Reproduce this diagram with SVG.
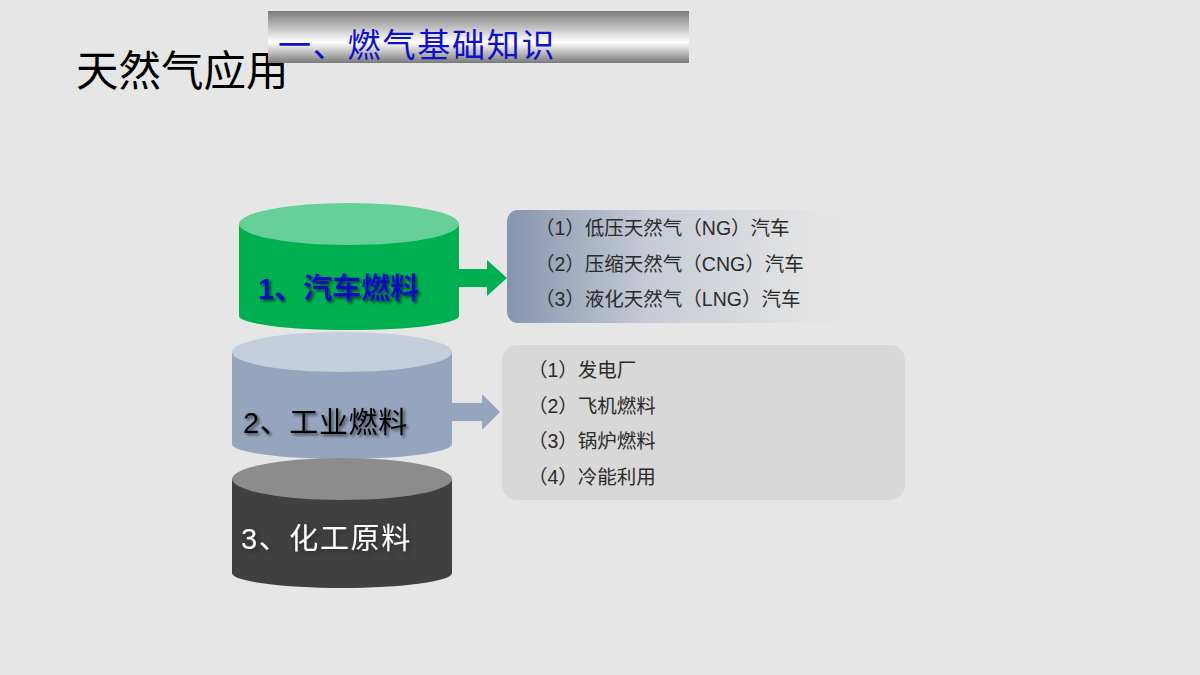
<svg xmlns="http://www.w3.org/2000/svg" width="1200" height="675" viewBox="0 0 1200 675">
<defs>
<linearGradient id="barGrad" x1="0" y1="0" x2="0" y2="1">
<stop offset="0" stop-color="#7a7a7a"/>
<stop offset="0.6" stop-color="#ffffff"/>
<stop offset="1" stop-color="#7a7a7a"/>
</linearGradient>
<linearGradient id="box1Grad" x1="0" y1="0" x2="1" y2="0">
<stop offset="0" stop-color="#8594ae"/>
<stop offset="0.35" stop-color="#c7ccd5"/>
<stop offset="0.75" stop-color="#e4e4e4"/>
<stop offset="1" stop-color="#e6e6e6"/>
</linearGradient>
<filter id="shadow" x="-10%" y="-30%" width="120%" height="160%">
<feDropShadow dx="2" dy="2" stdDeviation="1.5" flood-color="#000" flood-opacity="0.6"/>
</filter>
<filter id="shadowLight" x="-10%" y="-30%" width="120%" height="160%">
<feDropShadow dx="2" dy="2" stdDeviation="2" flood-color="#222" flood-opacity="0.7"/>
</filter>
</defs>
<style>
.cjk{font-family:"Liberation Sans","Noto Sans CJK SC",sans-serif;}
.item{font-family:"Liberation Sans","Noto Sans CJK SC",sans-serif;font-size:19.5px;fill:#2b2b2b;}
.cyltext{font-family:"Liberation Sans","Noto Sans CJK SC",sans-serif;font-size:29px;}
</style>
<rect width="1200" height="675" fill="#e6e6e6"/>

<g id="heading">
<text class="cjk" x="76" y="86" font-size="42.5" fill="#000">天然气应用</text>
</g>

<g id="title-bar">
<rect x="268" y="11" width="421" height="52" fill="url(#barGrad)"/>
<text x="278" y="57" font-family="Noto Sans CJK SC, sans-serif" font-size="33" fill="#1010c8" letter-spacing="1.8">一、燃气基础知识</text>
</g>

<g id="connectors">
<polygon points="459,269 487,269 487,260 507,278 487,296 487,287 459,287" fill="#00b050"/>
<polygon points="452,403 482,403 482,394 500,412 482,430 482,421 452,421" fill="#95a5bd"/>
</g>

<g id="cyl1">
<path d="M239,224 L239,316 A110,14 0 0 0 459,316 L459,224 Z" fill="#00b050"/>
<ellipse cx="349" cy="224" rx="110" ry="21" fill="#66d098"/>
<text class="cyltext" x="258" y="299" font-size="29.5" font-weight="bold" fill="#1010c0" filter="url(#shadow)">1、汽车燃料</text>
</g>

<g id="cyl2">
<path d="M232,352 L232,444 A110,15 0 0 0 452,444 L452,352 Z" fill="#95a5bd"/>
<ellipse cx="342" cy="352" rx="110" ry="20" fill="#c5cedb"/>
<text class="cyltext" x="243" y="433" fill="#000" letter-spacing="0.6" filter="url(#shadow)">2、工业燃料</text>
</g>

<g id="cyl3">
<path d="M232,479 L232,573 A110,15 0 0 0 452,573 L452,479 Z" fill="#404040"/>
<ellipse cx="342" cy="479" rx="110" ry="21" fill="#8c8c8c"/>
<text class="cyltext" x="241" y="549" font-size="30.5" fill="#fff" letter-spacing="1.6" filter="url(#shadowLight)">3、化工原料</text>
</g>

<g id="box1">
<rect x="507" y="210" width="410" height="113" rx="11" fill="url(#box1Grad)"/>
<text class="item" x="535" y="235">（1）低压天然气（NG）汽车</text>
<text class="item" x="535" y="271">（2）压缩天然气（CNG）汽车</text>
<text class="item" x="535" y="306">（3）液化天然气（LNG）汽车</text>
</g>

<g id="box2">
<rect x="502" y="345" width="403" height="155" rx="15" fill="#d8d8d8"/>
<text class="item" x="528" y="377">（1）发电厂</text>
<text class="item" x="528" y="413">（2）飞机燃料</text>
<text class="item" x="528" y="448">（3）锅炉燃料</text>
<text class="item" x="528" y="484">（4）冷能利用</text>
</g>
</svg>
